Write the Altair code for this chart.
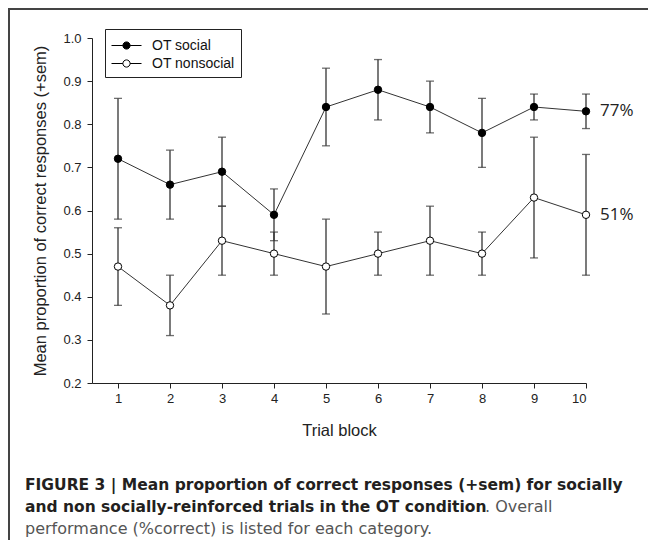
import altair as alt
import pandas as pd

# ---- data ----
blocks = [1, 2, 3, 4, 5, 6, 7, 8, 9, 10]
social_mean = [0.72, 0.66, 0.69, 0.59, 0.84, 0.88, 0.84, 0.78, 0.84, 0.83]
social_sem = [0.14, 0.08, 0.08, 0.06, 0.09, 0.07, 0.06, 0.08, 0.03, 0.04]
nonsocial_mean = [0.47, 0.38, 0.53, 0.50, 0.47, 0.50, 0.53, 0.50, 0.63, 0.59]
nonsocial_sem = [0.09, 0.07, 0.08, 0.05, 0.11, 0.05, 0.08, 0.05, 0.14, 0.14]
series_names = ["OT social", "OT nonsocial"]
overall_labels = ["77%", "51%"]
y_ticks = [0.2, 0.3, 0.4, 0.5, 0.6, 0.7, 0.8, 0.9, 1.0]
caption_bold_1 = "FIGURE 3 | Mean proportion of correct responses (+sem) for socially"
caption_bold_2 = "and non socially-reinforced trials in the OT condition"
caption_reg_2 = ". Overall"
caption_reg_3 = "performance (%correct) is listed for each category."

rows = []
for name, means, sems in [(series_names[0], social_mean, social_sem),
                          (series_names[1], nonsocial_mean, nonsocial_sem)]:
    for b, m, s in zip(blocks, means, sems):
        rows.append({"block": b, "mean": m, "lo": round(m - s, 3), "hi": round(m + s, 3), "series": name})
df = pd.DataFrame(rows)

ann = pd.DataFrame({
    "block": [blocks[-1], blocks[-1]],
    "mean": [social_mean[-1], nonsocial_mean[-1]],
    "label": overall_labels,
})

W, H = 494, 345
FONT = "Liberation Sans"
CAPFONT = "DejaVu Sans"

xs = alt.Scale(domain=[0.5, 10], nice=False, zero=False)
ys = alt.Scale(domain=[0.2, 1.0], nice=False, zero=False)

x_axis = alt.Axis(values=blocks, title="Trial block", tickSize=5, labelPadding=4,
                  grid=False, domainColor="#222", tickColor="#222", labelFontSize=13,
                  labelFont=FONT, labelColor="#222", titleFont=FONT, titleFontSize=16.5,
                  titleFontWeight="normal", titleColor="#222", titleBaseline="middle",
                  titleY=47, titleX=W / 2)
y_axis = alt.Axis(values=y_ticks, format=".1f", title="Mean proportion of correct responses (+sem)",
                  tickSize=5, labelPadding=6, grid=False, domainColor="#222", tickColor="#222",
                  labelFontSize=13, labelFont=FONT, labelColor="#222", titleFont=FONT,
                  titleFontSize=16.5, titleFontWeight="normal", titleColor="#222",
                  titleBaseline="middle", titleX=-52, titleY=H / 2, titleAngle=-90)

base = alt.Chart(df)

bars = base.mark_rule(color="#333", strokeWidth=1.3).encode(
    x=alt.X("block:Q", scale=xs, axis=x_axis),
    y=alt.Y("lo:Q", scale=ys, axis=y_axis),
    y2="hi:Q",
)
cap_lo = base.mark_tick(orient="horizontal", color="#333", size=8, thickness=1.3).encode(
    x=alt.X("block:Q", scale=xs), y=alt.Y("lo:Q", scale=ys))
cap_hi = base.mark_tick(orient="horizontal", color="#333", size=8, thickness=1.3).encode(
    x=alt.X("block:Q", scale=xs), y=alt.Y("hi:Q", scale=ys))

lines = base.mark_line(color="#333", strokeWidth=1).encode(
    x=alt.X("block:Q", scale=xs), y=alt.Y("mean:Q", scale=ys), detail="series:N")

sym = ("M-1.0,0L0.14,0M0.86,0L2.0,0M0.14,0A0.36,0.36 0 1,0 0.86,0A0.36,0.36 0 1,0 0.14,0Z")

points = base.mark_point(shape="circle", filled=True, size=55, stroke="black",
                         strokeWidth=1, opacity=1).encode(
    x=alt.X("block:Q", scale=xs), y=alt.Y("mean:Q", scale=ys),
    fill=alt.Fill("series:N", scale=alt.Scale(domain=series_names, range=["black", "white"]),
                  legend=alt.Legend(title=None, orient="none", legendX=13, legendY=-9,
                                    strokeColor="#222", padding=6, symbolType=sym,
                                    symbolSize=400, symbolStrokeColor="black",
                                    symbolStrokeWidth=1, labelFont=FONT, labelFontSize=14,
                                    labelColor="#111", labelOffset=20, rowPadding=0)),
)

labels = alt.Chart(ann).mark_text(align="left", baseline="middle", dx=14, font="Open Sans",
                                  fontSize=17, color="#222").encode(
    x=alt.X("block:Q", scale=xs), y=alt.Y("mean:Q", scale=ys), text="label:N")

def txt(s, x, y, bold, color, size):
    return alt.Chart(pd.DataFrame({"t": [s]})).mark_text(
        align="left", baseline="middle", font=CAPFONT, fontSize=size,
        fontWeight="bold" if bold else "normal", color=color,
    ).encode(x=alt.value(x), y=alt.value(y), text="t:N")

cap1 = txt(caption_bold_1, -67, 447, True, "#231f20", 15.5)
cap2 = txt(caption_bold_2, -67, 469, True, "#231f20", 15.5)
cap2b = txt(caption_reg_2, 393, 469, False, "#555", 16)
cap3 = txt(caption_reg_3, -67, 491, False, "#555", 16)

one = pd.DataFrame({"k": [0]})
border_top = alt.Chart(one).mark_rule(color="#444", strokeWidth=2).encode(
    x=alt.value(-84), x2=alt.value(600), y=alt.value(-29))
border_left = alt.Chart(one).mark_rule(color="#444", strokeWidth=2).encode(
    x=alt.value(-83), y=alt.value(-30), y2=alt.value(600))

chart = alt.layer(border_top, border_left, bars, cap_lo, cap_hi, lines, points, labels,
                  cap1, cap2, cap2b, cap3).properties(
    width=W, height=H,
    autosize=alt.AutoSizeParams(type="none"),
    padding={"left": 84, "top": 30, "right": 62, "bottom": 157},
).configure_view(stroke=None)

chart.save("out.html", embed_options={"renderer": "svg", "actions": False})
